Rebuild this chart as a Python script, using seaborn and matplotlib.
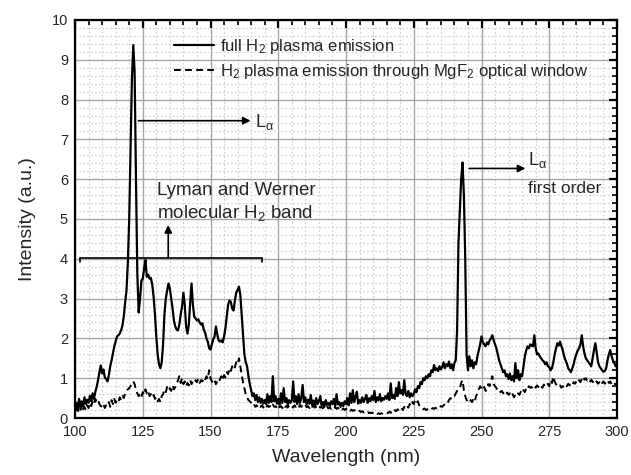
import numpy as np
import pandas as pd
import matplotlib
matplotlib.use("Agg")
import matplotlib.pyplot as plt
from matplotlib.ticker import MultipleLocator
import seaborn as sns

# ---------------- data ----------------
wavelength = np.arange(100.0, 300.01, 0.5)  # nm sampling grid

full_h2 = [
    0.20, 0.38, 0.25, 0.48, 0.30, 0.42, 0.28, 0.52, 0.35, 0.46,   # 100
    0.38, 0.56, 0.42, 0.62, 0.48, 0.66, 0.78, 0.95, 1.15, 1.32,   # 105
    1.12, 1.22, 1.02, 0.98, 0.92, 1.08, 1.30, 1.45, 1.62, 1.80,   # 110
    1.92, 2.05, 2.08, 2.12, 2.20, 2.32, 2.55, 2.90, 3.20, 3.90,   # 115
    5.00, 6.80, 8.50, 9.37, 8.70, 6.00, 3.60, 2.65, 3.00, 3.45,   # 120
    3.50, 3.75, 3.97, 3.55, 3.60, 3.50, 3.52, 3.35, 3.05, 2.60,   # 125
    2.05, 1.60, 1.35, 1.25, 1.40, 1.85, 2.60, 3.00, 3.20, 3.38,   # 130
    3.25, 3.00, 2.75, 2.45, 2.30, 2.22, 2.20, 2.35, 2.60, 2.80,   # 135
    3.15, 2.85, 2.30, 2.12, 2.35, 2.90, 3.38, 2.85, 2.55, 2.50,   # 140
    2.45, 2.48, 2.40, 2.35, 2.38, 2.22, 2.15, 2.00, 1.92, 1.75,   # 145
    1.72, 1.85, 1.98, 2.05, 2.30, 2.10, 1.95, 1.92, 1.95, 1.90,   # 150
    2.05, 2.25, 2.55, 2.85, 2.95, 2.92, 2.75, 2.70, 2.95, 3.15,   # 155
    3.22, 3.30, 3.10, 2.60, 2.10, 1.60, 1.40, 1.30, 1.05, 0.85,   # 160
    0.70, 0.55, 0.62, 0.45, 0.58, 0.40, 0.52, 0.38, 0.48, 0.36,   # 165
    0.45, 0.35, 0.60, 0.38, 0.55, 0.40, 1.05, 0.42, 0.55, 0.36,   # 170
    0.48, 0.34, 0.62, 0.38, 0.75, 0.40, 0.50, 0.33, 0.45, 0.38,   # 175
    0.45, 0.92, 0.40, 0.55, 0.35, 0.60, 0.38, 0.50, 0.83, 0.40,   # 180
    0.52, 0.34, 0.46, 0.36, 0.58, 0.32, 0.44, 0.30, 0.50, 0.35,   # 185
    0.42, 0.55, 0.32, 0.40, 0.28, 0.45, 0.33, 0.38, 0.30, 0.42,   # 190
    0.35, 0.48, 0.30, 0.60, 0.34, 0.40, 0.28, 0.38, 0.30, 0.42,   # 195
    0.35, 0.50, 0.32, 0.62, 0.38, 0.70, 0.40, 0.52, 0.66, 0.36,   # 200
    0.45, 0.38, 0.52, 0.40, 0.48, 0.58, 0.38, 0.50, 0.42, 0.55,   # 205
    0.45, 0.68, 0.40, 0.52, 0.44, 0.60, 0.42, 0.50, 0.46, 0.55,   # 210
    0.48, 0.62, 0.45, 0.87, 0.50, 0.58, 0.48, 0.75, 0.55, 0.90,   # 215
    0.62, 0.70, 0.58, 0.95, 0.60, 0.55, 0.68, 0.52, 0.62, 0.55,   # 220
    0.60, 0.72, 0.65, 0.80, 0.75, 0.90, 0.85, 1.00, 0.95, 1.05,   # 225
    1.00, 1.10, 1.05, 1.20, 1.15, 1.33, 1.20, 1.25, 1.18, 1.30,   # 230
    1.22, 1.28, 1.40, 1.25, 1.35, 1.30, 1.42, 1.25, 1.35, 1.20,   # 235
    1.38, 1.45, 2.20, 4.40, 5.20, 6.00, 6.42, 5.60, 4.00, 1.60,   # 240
    1.20, 1.55, 1.30, 1.45, 1.25, 1.40, 1.35, 1.55, 1.70, 1.85,   # 245
    2.05, 1.90, 1.85, 1.80, 1.90, 1.85, 1.95, 2.00, 2.08, 1.95,   # 250
    1.85, 1.75, 1.60, 1.45, 1.35, 1.25, 1.15, 1.20, 1.05, 1.10,   # 255
    0.98, 1.12, 0.95, 1.05, 0.92, 1.38, 1.00, 1.20, 0.95, 1.10,   # 260
    1.05, 1.30, 1.55, 1.70, 1.80, 1.75, 1.85, 1.82, 1.80, 2.08,   # 265
    1.75, 1.60, 1.62, 1.55, 1.50, 1.45, 1.42, 1.35, 1.40, 1.30,   # 270
    1.28, 1.20, 1.25, 1.40, 1.60, 1.75, 1.88, 1.82, 1.92, 1.80,   # 275
    1.70, 1.55, 1.45, 1.37, 1.25, 1.20, 1.15, 1.25, 1.35, 1.50,   # 280
    1.60, 1.70, 1.75, 1.85, 2.08, 1.80, 1.62, 1.50, 1.45, 1.40,   # 285
    1.35, 1.30, 1.50, 1.70, 1.88, 1.65, 1.40, 1.30, 1.25, 1.20,   # 290
    1.16, 1.18, 1.25, 1.45, 1.60, 1.71, 1.55, 1.45, 1.38, 1.30,   # 295
    1.30,
]

mgf2_window = [
    0.15, 0.25, 0.12, 0.30, 0.18, 0.35, 0.22, 0.28, 0.20, 0.32,   # 100
    0.25, 0.38, 0.30, 0.42, 0.35, 0.48, 0.40, 0.45, 0.35, 0.30,   # 105
    0.28, 0.35, 0.25, 0.32, 0.30, 0.40, 0.28, 0.45, 0.35, 0.48,   # 110
    0.38, 0.45, 0.40, 0.52, 0.45, 0.55, 0.50, 0.62, 0.68, 0.72,   # 115
    0.75, 0.80, 0.88, 0.92, 0.85, 0.70, 0.62, 0.55, 0.60, 0.52,   # 120
    0.65, 0.58, 0.72, 0.62, 0.68, 0.55, 0.60, 0.52, 0.58, 0.48,   # 125
    0.52, 0.42, 0.48, 0.40, 0.55, 0.60, 0.72, 0.65, 0.78, 0.70,   # 130
    0.75, 0.68, 0.82, 0.72, 0.78, 0.85, 0.95, 1.05, 0.88, 1.00,   # 135
    0.85, 0.92, 0.80, 0.88, 0.82, 0.95, 0.85, 0.92, 0.88, 0.95,   # 140
    0.90, 0.98, 0.88, 0.95, 0.92, 1.00, 0.95, 1.05, 0.98, 1.20,   # 145
    1.00, 0.92, 0.88, 0.95, 0.85, 0.92, 0.88, 0.98, 1.05, 0.95,   # 150
    1.08, 1.02, 1.15, 1.10, 1.25, 1.18, 1.30, 1.22, 1.28, 1.40,   # 155
    1.35, 1.50, 1.30, 1.10, 0.90, 0.75, 0.60, 0.52, 0.45, 0.42,   # 160
    0.38, 0.32, 0.35, 0.28, 0.32, 0.25, 0.30, 0.28, 0.32, 0.26,   # 165
    0.30, 0.25, 0.32, 0.28, 0.30, 0.26, 0.34, 0.28, 0.30, 0.25,   # 170
    0.32, 0.27, 0.30, 0.25, 0.33, 0.28, 0.30, 0.26, 0.32, 0.28,   # 175
    0.30, 0.26, 0.32, 0.28, 0.30, 0.25, 0.33, 0.28, 0.30, 0.26,   # 180
    0.31, 0.27, 0.30, 0.25, 0.32, 0.28, 0.30, 0.26, 0.29, 0.25,   # 185
    0.30, 0.26, 0.28, 0.24, 0.30, 0.26, 0.28, 0.24, 0.27, 0.23,   # 190
    0.28, 0.25, 0.27, 0.23, 0.26, 0.22, 0.25, 0.21, 0.24, 0.20,   # 195
    0.23, 0.20, 0.22, 0.18, 0.21, 0.18, 0.20, 0.17, 0.19, 0.16,   # 200
    0.18, 0.15, 0.17, 0.14, 0.16, 0.13, 0.15, 0.12, 0.14, 0.12,   # 205
    0.13, 0.11, 0.13, 0.10, 0.12, 0.10, 0.12, 0.11, 0.13, 0.12,   # 210
    0.14, 0.12, 0.16, 0.13, 0.18, 0.15, 0.20, 0.17, 0.22, 0.18,   # 215
    0.22, 0.25, 0.20, 0.28, 0.24, 0.30, 0.26, 0.35, 0.30, 0.40,   # 220
    0.35, 0.45, 0.38, 0.42, 0.32, 0.28, 0.25, 0.22, 0.24, 0.20,   # 225
    0.22, 0.20, 0.24, 0.22, 0.25, 0.23, 0.26, 0.24, 0.28, 0.26,   # 230
    0.30, 0.28, 0.32, 0.35, 0.40, 0.38, 0.45, 0.50, 0.48, 0.55,   # 235
    0.55, 0.62, 0.68, 0.72, 0.75, 0.88, 0.95, 0.70, 0.55, 0.45,   # 240
    0.42, 0.38, 0.45, 0.40, 0.48, 0.42, 0.55, 0.62, 0.72, 0.80,   # 245
    0.75, 0.70, 0.78, 0.68, 0.72, 0.85, 0.80, 0.95, 1.05, 0.85,   # 250
    0.80, 0.75, 0.70, 0.72, 0.65, 0.68, 0.62, 0.66, 0.60, 0.64,   # 255
    0.58, 0.62, 0.55, 0.60, 0.52, 0.58, 0.55, 0.62, 0.58, 0.66,   # 260
    0.62, 0.70, 0.65, 0.75, 0.72, 0.80, 0.76, 0.78, 0.74, 0.80,   # 265
    0.76, 0.82, 0.78, 0.74, 0.80, 0.76, 0.84, 0.78, 0.82, 0.86,   # 270
    0.80, 0.95, 0.88, 1.04, 0.92, 0.85, 0.80, 0.78, 0.82, 0.76,   # 275
    0.80, 0.78, 0.84, 0.80, 0.86, 0.82, 0.88, 0.84, 0.90, 0.86,   # 280
    0.92, 0.88, 0.95, 0.90, 0.98, 1.04, 0.96, 1.00, 0.94, 0.98,   # 285
    0.92, 0.96, 0.90, 0.94, 0.88, 0.92, 0.86, 0.90, 0.95, 0.88,   # 290
    0.92, 0.86, 0.90, 0.95, 0.88, 0.92, 0.85, 0.90, 0.87, 0.84,   # 295
    0.87,
]

series_labels = ["full H$_2$ plasma emission",
                 "H$_2$ plasma emission through MgF$_2$ optical window"]
x_ticks = [100, 125, 150, 175, 200, 225, 250, 275, 300]
y_ticks = [0, 1, 2, 3, 4, 5, 6, 7, 8, 9, 10]

# ---------------- style ----------------
sns.set_style("white")
plt.rcParams["font.family"] = ["Liberation Sans", "DejaVu Sans"]
plt.rcParams["mathtext.fontset"] = "custom"
plt.rcParams["mathtext.rm"] = "Liberation Sans"
plt.rcParams["mathtext.it"] = "Liberation Sans:italic"
plt.rcParams["mathtext.bf"] = "Liberation Sans:bold"

fig = plt.figure(figsize=(6.31, 4.75), dpi=100)
ax = fig.add_axes([75 / 631, 57 / 475, 542 / 631, 398 / 475])

df = pd.DataFrame({"wl": wavelength, "full": full_h2, "mgf2": mgf2_window})

sns.lineplot(data=df, x="wl", y="full", ax=ax, color="black", lw=1.6,
             label=series_labels[0], zorder=3)
sns.lineplot(data=df, x="wl", y="mgf2", ax=ax, color="black", lw=1.4,
             linestyle=(0, (3.5, 2.2)), label=series_labels[1], zorder=3)

ax.set_xlim(100, 300)
ax.set_ylim(0, 10)
ax.set_xticks(x_ticks)
ax.set_yticks(y_ticks)
ax.xaxis.set_minor_locator(MultipleLocator(5))
ax.yaxis.set_minor_locator(MultipleLocator(0.2))

ax.grid(which="major", color="#a6a6a6", lw=1.0, ls="-", zorder=0)
ax.grid(which="minor", color="#cccccc", lw=0.8, ls=(0, (1.5, 2)), zorder=0)
ax.set_axisbelow(True)

ax.tick_params(which="major", direction="in", length=6, width=1.6,
               top=True, right=True, labelsize=10.5, pad=5, color="black")
ax.tick_params(which="minor", direction="in", length=3.5, width=1.2,
               top=True, right=True, color="black")
for s in ax.spines.values():
    s.set_linewidth(1.6)
    s.set_color("black")

ax.set_xlabel("Wavelength (nm)", fontsize=14, labelpad=7)
ax.set_ylabel("Intensity (a.u.)", fontsize=14, labelpad=11)

leg = ax.legend(loc="upper left", bbox_to_anchor=(0.183, 0.958),
                frameon=False, fontsize=12, handlelength=2.4,
                handletextpad=0.35, labelspacing=0.35, borderpad=0,
                borderaxespad=0)

# ---------------- annotations ----------------
arrow_kw = dict(arrowstyle="-|>", color="black", lw=1.2, mutation_scale=11,
                shrinkA=0, shrinkB=0)
alpha_lbl = r"L$_\mathrm{α}$"
ax.annotate("", xy=(164.8, 7.47), xytext=(123.4, 7.47), arrowprops=arrow_kw)
ax.text(166.3, 7.31, alpha_lbl, fontsize=13, va="baseline", ha="left")

ax.annotate("", xy=(266.2, 6.27), xytext=(245.5, 6.27), arrowprops=arrow_kw)
ax.text(267.3, 6.36, alpha_lbl, fontsize=13, va="baseline", ha="left")
ax.text(267.3, 5.66, "first order", fontsize=12.5, va="baseline", ha="left")

ax.text(130.1, 5.60, "Lyman and Werner", fontsize=13.5, va="baseline", ha="left")
ax.text(130.1, 5.02, "molecular H$_2$ band", fontsize=13.5, va="baseline", ha="left")

ax.plot([101.8, 168.9], [4.03, 4.03], color="black", lw=1.2, zorder=4)
ax.plot([168.9, 168.9], [4.03, 3.93], color="black", lw=1.2, zorder=4)
ax.plot([101.8, 101.8], [4.03, 3.93], color="black", lw=1.2, zorder=4)
ax.annotate("", xy=(134.4, 4.85), xytext=(134.4, 4.03), arrowprops=arrow_kw)

fig.savefig("out.png", dpi=100)
